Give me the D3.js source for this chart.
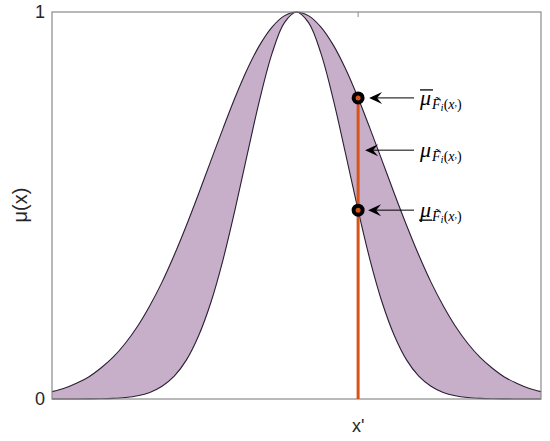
<!DOCTYPE html>
<html><head><meta charset="utf-8">
<script src="https://cdn.jsdelivr.net/npm/d3@7"></script>
<style>body{margin:0;background:#fff}
.sans{font-family:'Liberation Sans','Arimo',Arial,sans-serif}
.serif{font-family:'Liberation Serif','DejaVu Serif',serif}
</style>
</head><body>
<svg id="c" width="550" height="441"></svg>
<script>
const xs = [0,0.25,0.5,0.75,1,1.25,1.5,1.75,2,2.25,2.5,2.75,3,3.25,3.5,3.75,4,4.25,4.5,4.75,5,
            5.25,5.5,5.75,6,6.25,6.5,6.75,7,7.25,7.5,7.75,8,8.25,8.5,8.75,9,9.25,9.5,9.75,10];
const upperMF = [0.019,0.028,0.041,0.057,0.080,0.108,0.144,0.188,0.241,0.302,0.372,0.449,0.531,0.616,0.700,0.781,0.854,0.915,0.961,0.990,1,
                 0.990,0.961,0.915,0.854,0.781,0.700,0.616,0.531,0.449,0.372,0.302,0.241,0.188,0.144,0.108,0.080,0.057,0.041,0.028,0.019];
const lowerMF = [0,0,0.0001,0.0003,0.0007,0.0017,0.0039,0.0084,0.017,0.033,0.059,0.101,0.164,0.250,0.361,0.493,0.636,0.775,0.893,0.972,1,
                 0.972,0.893,0.775,0.636,0.493,0.361,0.250,0.164,0.101,0.059,0.033,0.017,0.0084,0.0039,0.0017,0.0007,0.0003,0.0001,0,0];
const xPrime = 6.26;
const markerVals = [0.778, 0.488];
const yTicks = [0, 1];
const xTickLabel = "x'";

const svg = d3.select("#c");
const x = d3.scaleLinear().domain([0,10]).range([52,541]);
const y = d3.scaleLinear().domain([0,1]).range([399,12]);
const pts = xs.map((v,i)=>({x:v,u:upperMF[i],l:lowerMF[i]}));

svg.append("path").datum(pts)
  .attr("d", d3.area().x(d=>x(d.x)).y0(d=>y(d.l)).y1(d=>y(d.u)).curve(d3.curveCatmullRom))
  .attr("fill","#c7afca").attr("stroke","none");
const lineU = d3.line().x(d=>x(d.x)).y(d=>y(d.u)).curve(d3.curveCatmullRom);
const lineL = d3.line().x(d=>x(d.x)).y(d=>y(d.l)).curve(d3.curveCatmullRom);
svg.append("path").datum(pts).attr("d",lineU).attr("fill","none").attr("stroke","#2b1f33").attr("stroke-width",1.1);
svg.append("path").datum(pts).attr("d",lineL).attr("fill","none").attr("stroke","#2b1f33").attr("stroke-width",1.1);

// axes box
svg.append("rect").attr("x",x(0)).attr("y",y(1)).attr("width",x(10)-x(0)).attr("height",y(0)-y(1))
  .attr("fill","none").attr("stroke","#8a8a8a").attr("stroke-width",1.2);
svg.append("line").attr("x1",x(xPrime)).attr("x2",x(xPrime)).attr("y1",y(1)).attr("y2",y(1)+5).attr("stroke","#8a8a8a");

// y tick labels
svg.selectAll(".yt").data(yTicks).enter().append("text").attr("class","sans")
  .attr("x",x(0)-7).attr("y",d=>y(d)).attr("dy","0.36em").attr("text-anchor","end")
  .attr("font-size",18).attr("fill","#262626")
  .text(d=>d);
svg.append("text").attr("class","sans").attr("x",x(xPrime)).attr("y",432).attr("text-anchor","middle")
  .attr("font-size",18).attr("fill","#262626").text(xTickLabel);
svg.append("text").attr("class","sans").attr("transform","translate(27,205) rotate(-90)").attr("text-anchor","middle")
  .attr("font-size",20).attr("fill","#262626").text("μ(x)");

// vertical line at x'
svg.append("line").attr("x1",x(xPrime)).attr("x2",x(xPrime)).attr("y1",y(0)).attr("y2",y(markerVals[0]))
  .attr("stroke","#d95319").attr("stroke-width",3);
svg.selectAll(".mk").data(markerVals).enter().append("circle")
  .attr("cx",x(xPrime)).attr("cy",d=>y(d)).attr("r",4.5)
  .attr("fill","#d95319").attr("stroke","#000").attr("stroke-width",4);

// annotations
const ann = [
  {yv: markerVals[0], x2: x(xPrime)+11, kind:"over"},
  {yv: (markerVals[0]+markerVals[1])/2 + 0.01, x2: x(xPrime)+7, kind:"plain"},
  {yv: markerVals[1], x2: x(xPrime)+10, kind:"under"}
];
ann.forEach(a=>{
  const yy = y(a.yv);
  const x1 = 414;
  svg.append("line").attr("x1",x1).attr("x2",a.x2+6).attr("y1",yy).attr("y2",yy).attr("stroke","#000").attr("stroke-width",1);
  const tip = a.x2;
  svg.append("path").attr("d",`M${tip},${yy} L${tip+13},${yy-6} L${tip+8},${yy} L${tip+13},${yy+6} Z`).attr("fill","#000");
  const g = svg.append("text").attr("class","serif").attr("x",420).attr("y",yy+7).attr("fill","#000");
  g.append("tspan").attr("font-style","italic").attr("font-size",22).text("μ");
  g.append("tspan").attr("font-size",14).attr("dy",4).attr("dx",1)
    .html('<tspan font-style="italic">F̃</tspan><tspan font-style="italic" font-size="11" dy="2">i</tspan><tspan dy="-2">(</tspan><tspan font-style="italic">x</tspan><tspan font-size="10" dy="-3">,</tspan><tspan dy="3">)</tspan>');
  if (a.kind==="over") svg.append("line").attr("x1",420).attr("x2",433).attr("y1",yy-8).attr("y2",yy-8).attr("stroke","#000").attr("stroke-width",1.3);
  if (a.kind==="under") svg.append("line").attr("x1",419).attr("x2",432).attr("y1",yy+10).attr("y2",yy+10).attr("stroke","#000").attr("stroke-width",1.3);
});
</script>
</body></html>
